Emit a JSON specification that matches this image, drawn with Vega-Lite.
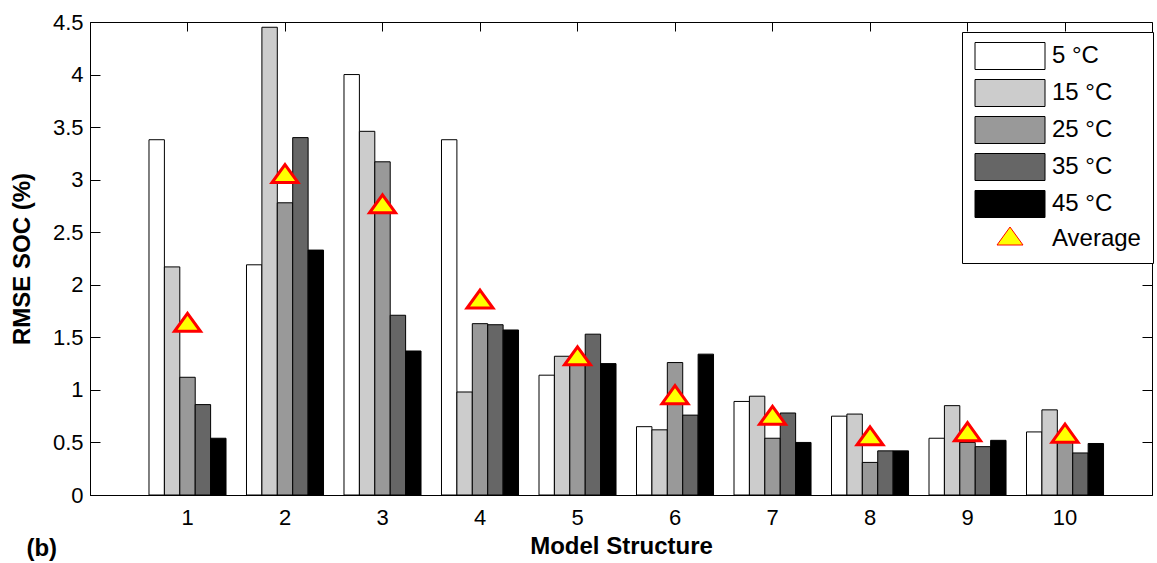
{
  "$schema": "https://vega.github.io/schema/vega-lite/v6.json",
  "width": 1062,
  "height": 473,
  "autosize": "none",
  "padding": {"left": 90, "top": 22, "right": 5, "bottom": 68},
  "background": "white",
  "title": {"text": "(b)", "orient": "bottom", "anchor": "start", "frame": "bounds", "offset": -21, "dx": 16, "font": "Liberation Sans", "fontSize": 24, "fontWeight": "bold", "color": "#000"},
  "config": {
    "view": {"stroke": "#000", "strokeWidth": 1},
    "font": "Liberation Sans",
    "axis": {"labelFont": "Liberation Sans", "labelColor": "#000", "labelFontSize": 22, "titleFont": "Liberation Sans", "titleFontWeight": "bold", "titleColor": "#000", "titleFontSize": 24, "domainColor": "#000", "tickColor": "#000", "grid": false},
    "legend": {"orient": "none", "legendX": 872, "legendY": 10, "strokeColor": "#000", "fillColor": "#fff", "padding": 12, "labelFont": "Liberation Sans", "labelFontSize": 24, "labelColor": "#000", "symbolSize": 400, "symbolOffset": 24, "labelOffset": 30, "rowPadding": 5, "symbolStrokeWidth": 1, "labelLimit": 300}
  },
  "datasets": {
    "bars": [
      {"model": 1, "series": "5 °C", "rmse": 3.38}, {"model": 1, "series": "15 °C", "rmse": 2.17}, {"model": 1, "series": "25 °C", "rmse": 1.12}, {"model": 1, "series": "35 °C", "rmse": 0.86}, {"model": 1, "series": "45 °C", "rmse": 0.54},
      {"model": 2, "series": "5 °C", "rmse": 2.19}, {"model": 2, "series": "15 °C", "rmse": 4.45}, {"model": 2, "series": "25 °C", "rmse": 2.78}, {"model": 2, "series": "35 °C", "rmse": 3.40}, {"model": 2, "series": "45 °C", "rmse": 2.33},
      {"model": 3, "series": "5 °C", "rmse": 4.00}, {"model": 3, "series": "15 °C", "rmse": 3.46}, {"model": 3, "series": "25 °C", "rmse": 3.17}, {"model": 3, "series": "35 °C", "rmse": 1.71}, {"model": 3, "series": "45 °C", "rmse": 1.37},
      {"model": 4, "series": "5 °C", "rmse": 3.38}, {"model": 4, "series": "15 °C", "rmse": 0.98}, {"model": 4, "series": "25 °C", "rmse": 1.63}, {"model": 4, "series": "35 °C", "rmse": 1.62}, {"model": 4, "series": "45 °C", "rmse": 1.57},
      {"model": 5, "series": "5 °C", "rmse": 1.14}, {"model": 5, "series": "15 °C", "rmse": 1.32}, {"model": 5, "series": "25 °C", "rmse": 1.24}, {"model": 5, "series": "35 °C", "rmse": 1.53}, {"model": 5, "series": "45 °C", "rmse": 1.25},
      {"model": 6, "series": "5 °C", "rmse": 0.65}, {"model": 6, "series": "15 °C", "rmse": 0.62}, {"model": 6, "series": "25 °C", "rmse": 1.26}, {"model": 6, "series": "35 °C", "rmse": 0.76}, {"model": 6, "series": "45 °C", "rmse": 1.34},
      {"model": 7, "series": "5 °C", "rmse": 0.89}, {"model": 7, "series": "15 °C", "rmse": 0.94}, {"model": 7, "series": "25 °C", "rmse": 0.54}, {"model": 7, "series": "35 °C", "rmse": 0.78}, {"model": 7, "series": "45 °C", "rmse": 0.50},
      {"model": 8, "series": "5 °C", "rmse": 0.75}, {"model": 8, "series": "15 °C", "rmse": 0.77}, {"model": 8, "series": "25 °C", "rmse": 0.31}, {"model": 8, "series": "35 °C", "rmse": 0.42}, {"model": 8, "series": "45 °C", "rmse": 0.42},
      {"model": 9, "series": "5 °C", "rmse": 0.54}, {"model": 9, "series": "15 °C", "rmse": 0.85}, {"model": 9, "series": "25 °C", "rmse": 0.50}, {"model": 9, "series": "35 °C", "rmse": 0.46}, {"model": 9, "series": "45 °C", "rmse": 0.52},
      {"model": 10, "series": "5 °C", "rmse": 0.60}, {"model": 10, "series": "15 °C", "rmse": 0.81}, {"model": 10, "series": "25 °C", "rmse": 0.50}, {"model": 10, "series": "35 °C", "rmse": 0.40}, {"model": 10, "series": "45 °C", "rmse": 0.49}
    ],
    "avg": [
      {"model": 1, "series": "Average", "rmse": 1.614},
      {"model": 2, "series": "Average", "rmse": 3.03},
      {"model": 3, "series": "Average", "rmse": 2.742},
      {"model": 4, "series": "Average", "rmse": 1.836},
      {"model": 5, "series": "Average", "rmse": 1.296},
      {"model": 6, "series": "Average", "rmse": 0.926},
      {"model": 7, "series": "Average", "rmse": 0.73},
      {"model": 8, "series": "Average", "rmse": 0.534},
      {"model": 9, "series": "Average", "rmse": 0.574},
      {"model": 10, "series": "Average", "rmse": 0.56}
    ]
  },
  "layer": [
    {
      "data": {"name": "bars"},
      "mark": {"type": "bar", "strokeWidth": 1, "opacity": 1},
      "encoding": {
        "x": {"field": "model", "type": "ordinal", "title": "Model Structure",
              "scale": {"domain": [1,2,3,4,5,6,7,8,9,10], "paddingInner": 0.21, "paddingOuter": 0.551, "align": 0.549},
              "axis": {"orient": "bottom", "labelAngle": 0, "tickSize": -8, "labelPadding": 20, "titlePadding": 6, "domain": true}},
        "xOffset": {"field": "series", "type": "nominal", "scale": {"domain": ["5 °C","15 °C","25 °C","35 °C","45 °C"], "paddingInner": 0, "paddingOuter": 0}},
        "y": {"field": "rmse", "type": "quantitative", "title": "RMSE SOC (%)",
              "scale": {"domain": [0, 4.5], "nice": false, "zero": true},
              "axis": {"orient": "left", "values": [0,0.5,1,1.5,2,2.5,3,3.5,4,4.5], "format": "~g", "tickSize": -10, "labelPadding": 17, "titlePadding": 18, "domain": true}},
        "fill": {"field": "series", "type": "nominal", "title": null,
                 "scale": {"domain": ["5 °C","15 °C","25 °C","35 °C","45 °C","Average"], "range": ["#ffffff","#cccccc","#999999","#666666","#000000","#ffff00"]},
                 "legend": {"encode": {"symbols": {"update": {"strokeWidth": {"signal": "datum.value === 'Average' ? 3 : 1"}}}}}},
        "stroke": {"field": "series", "type": "nominal", "title": null,
                   "scale": {"domain": ["5 °C","15 °C","25 °C","35 °C","45 °C","Average"], "range": ["#000000","#000000","#000000","#000000","#000000","#ff0000"]}}
      }
    },
    {
      "data": {"name": "avg"},
      "mark": {"type": "point", "filled": true, "opacity": 1, "size": 400, "strokeWidth": 3},
      "encoding": {
        "x": {"field": "model", "type": "ordinal",
              "axis": {"orient": "top", "labels": false, "title": null, "tickSize": -9, "domain": false}},
        "y": {"field": "rmse", "type": "quantitative",
              "axis": {"orient": "right", "labels": false, "title": null, "values": [0,0.5,1,1.5,2,2.5,3,3.5,4,4.5], "tickSize": -10, "domain": false}},
        "fill": {"field": "series", "type": "nominal", "title": null},
        "stroke": {"field": "series", "type": "nominal", "title": null},
        "shape": {"field": "series", "type": "nominal", "title": null,
                  "scale": {"domain": ["5 °C","15 °C","25 °C","35 °C","45 °C","Average"], "range": ["M-3.5,-1.35H3.5V1.35H-3.5Z","M-3.5,-1.35H3.5V1.35H-3.5Z","M-3.5,-1.35H3.5V1.35H-3.5Z","M-3.5,-1.35H3.5V1.35H-3.5Z","M-3.5,-1.35H3.5V1.35H-3.5Z","M0,-1.2L1.3,0.6L-1.3,0.6Z"]}}
      }
    },
    {
      "mark": {"type": "text", "text": "LiNMC", "font": "Liberation Sans", "fontSize": 28, "fontWeight": "bold", "color": "#000", "baseline": "alphabetic", "align": "center"},
      "encoding": {"y": {"datum": 3.615, "axis": null}}
    }
  ],
  "resolve": {"axis": {"x": "independent", "y": "independent"}}
}
